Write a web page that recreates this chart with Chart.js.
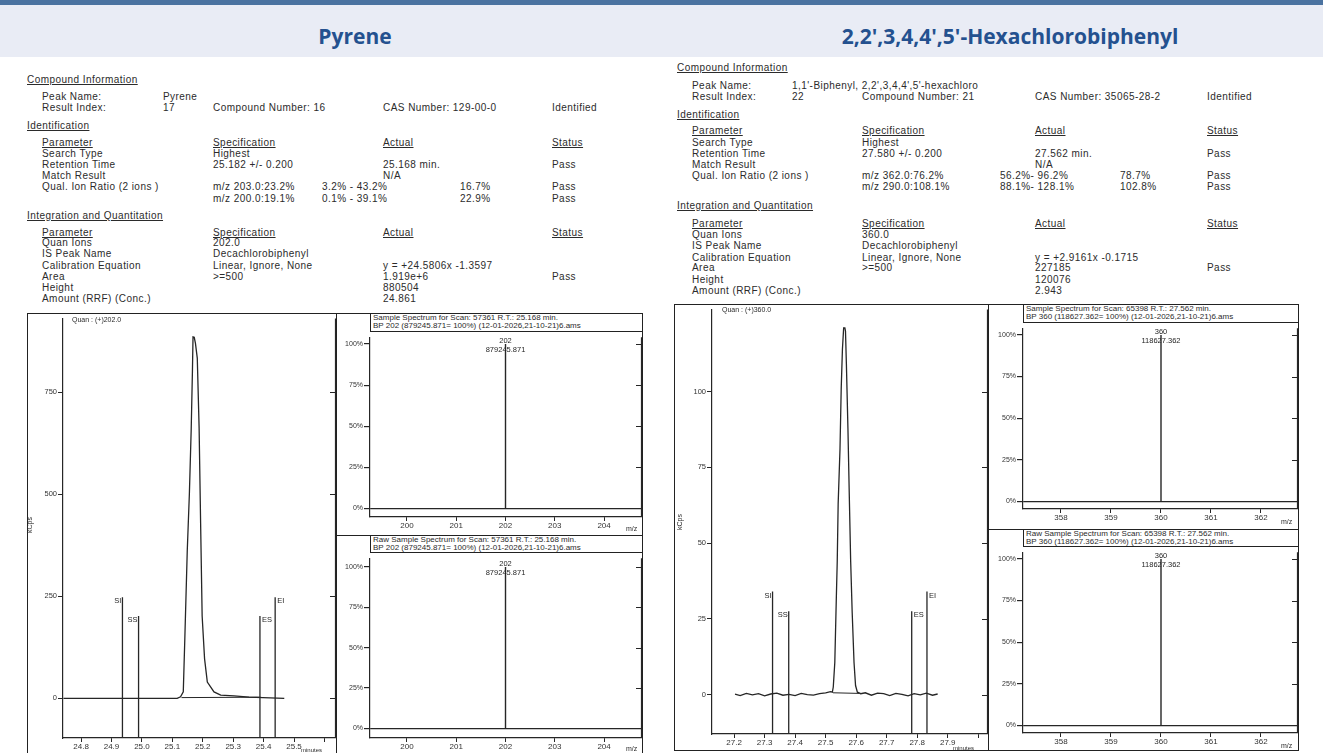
<!DOCTYPE html>
<html>
<head>
<meta charset="utf-8">
<script src="https://cdn.jsdelivr.net/npm/chart.js@4.4.1/dist/chart.umd.min.js"></script>
<style>
  body { margin: 0; width: 1323px; height: 753px; overflow: hidden; background: #fff; position: relative;
         font-family: "Liberation Sans", Arial, sans-serif; color: #2b2b2b; }
  .abs { position: absolute; white-space: nowrap; }
  .topbar { left: 0; top: 0; width: 1323px; height: 5px; background: #4a72a0; }
  .band { left: 0; top: 5px; width: 1323px; height: 52px; background: #e9ecf5; }
  .head { top: 22px; font-family: "Open Sans", sans-serif; font-weight: 700; font-size: 21px; color: #24518f; text-align: center; }
  .rep { font-size: 10px; line-height: 12px; letter-spacing: 0.45px; }
  .u { text-decoration: underline; }
  .frame { border: 1px solid #222; box-sizing: border-box; }
  .line { background: #222; }
  .sptitle { font-size: 8px; line-height: 8px; padding-left: 2px; border-left: 1px solid #222; border-bottom: 1px solid #222; box-sizing: border-box; }
  .small { font-size: 7px; line-height: 8px; }
  canvas { position: absolute; }
</style>
</head>
<body>
<div class="abs topbar"></div>
<div class="abs band"></div>
<div class="abs head" style="left:0;width:710px;">Pyrene</div>
<div class="abs head" style="left:687px;width:646px;">2,2',3,4,4',5'-Hexachlorobiphenyl</div>
<div id="report"></div>

<!-- left frames -->
<div class="abs frame" style="left:27px;top:313px;width:616px;height:460px;"></div>
<div class="abs line" style="left:336px;top:313px;width:1px;height:440px;"></div>
<div class="abs line" style="left:336px;top:535px;width:306px;height:1px;"></div>
<div class="abs sptitle" style="left:370px;top:314px;width:272px;height:18px;">Sample Spectrum for Scan: 57361 R.T.: 25.168 min.<br>BP 202 (879245.871= 100%) (12-01-2026,21-10-21)6.ams</div>
<div class="abs sptitle" style="left:370px;top:536px;width:272px;height:17px;">Raw Sample Spectrum for Scan: 57361 R.T.: 25.168 min.<br>BP 202 (879245.871= 100%) (12-01-2026,21-10-21)6.ams</div>

<!-- right frames -->
<div class="abs frame" style="left:674px;top:304px;width:625px;height:447px;"></div>
<div class="abs line" style="left:988px;top:304px;width:1px;height:446px;"></div>
<div class="abs line" style="left:988px;top:529px;width:310px;height:1px;"></div>
<div class="abs sptitle" style="left:1023px;top:305px;width:275px;height:18px;">Sample Spectrum for Scan: 65398 R.T.: 27.562 min.<br>BP 360 (118627.362= 100%) (12-01-2026,21-10-21)6.ams</div>
<div class="abs sptitle" style="left:1023px;top:530px;width:275px;height:17px;">Raw Sample Spectrum for Scan: 65398 R.T.: 27.562 min.<br>BP 360 (118627.362= 100%) (12-01-2026,21-10-21)6.ams</div>

<canvas id="chromL" width="310" height="440" style="left:27px;top:313px;"></canvas>
<canvas id="specL1" width="306" height="204" style="left:336px;top:332px;"></canvas>
<canvas id="specL2" width="306" height="200" style="left:336px;top:553px;"></canvas>
<canvas id="chromR" width="315" height="446" style="left:674px;top:304px;"></canvas>
<canvas id="specR1" width="310" height="206" style="left:988px;top:323px;"></canvas>
<canvas id="specR2" width="310" height="203" style="left:988px;top:547px;"></canvas>

<div class="abs small" style="left:72px;top:316px;">Quan : (+)202.0</div>
<div class="abs small" style="left:722px;top:306px;">Quan : (+)360.0</div>
<div class="abs small" style="left:22px;top:521px;transform:rotate(-90deg);">kCps</div>
<div class="abs small" style="left:672px;top:518px;transform:rotate(-90deg);">kCps</div>
<div class="abs small" style="left:301px;top:746px;font-size:6px;">minutes</div>
<div class="abs small" style="left:953px;top:744px;font-size:6px;">minutes</div>
<div class="abs small" style="left:626px;top:525px;">m/z</div>
<div class="abs small" style="left:626px;top:745px;">m/z</div>
<div class="abs small" style="left:1281px;top:518px;">m/z</div>
<div class="abs small" style="left:1281px;top:742px;">m/z</div>

<script>
// Pyrene quan ion 202 trace (minutes, kCps)
const pyrTime = [24.742, 25.116, 25.127, 25.136, 25.141, 25.149, 25.156, 25.162, 25.166, 25.168, 25.172, 25.176, 25.182, 25.188, 25.193, 25.198, 25.206, 25.215, 25.237, 25.259, 25.303, 25.352, 25.468];
const pyrKcps = [0, 0, 4, 16, 145, 360, 501, 659, 800, 886, 885, 870, 834, 664, 428, 202, 97, 40, 16, 8, 6, 3, 0];
const pyrBaseTime = [25.13, 25.39];
const pyrBaseKcps = [2, 3];
const pyrMarkTime = [24.936, 24.989, 25.388, 25.438];
const pyrMarkTop = [248, 202, 202, 248];
const pyrTimeTicks = [24.8, 24.9, 25.0, 25.1, 25.2, 25.3, 25.4, 25.5, 25.6];
const pyrKcpsTicks = [0, 250, 500, 750];

// Hexachlorobiphenyl quan ion 360 trace (minutes, kCps)
const pcbTime = [27.203, 27.22, 27.24, 27.26, 27.28, 27.30, 27.32, 27.34, 27.36, 27.38, 27.40, 27.42, 27.44, 27.46, 27.48, 27.50, 27.516,
  27.522, 27.525, 27.530, 27.535, 27.538, 27.541, 27.547, 27.551, 27.555, 27.559, 27.563, 27.565, 27.568, 27.573, 27.577, 27.582, 27.587, 27.593, 27.598, 27.604, 27.615,
  27.63, 27.65, 27.67, 27.69, 27.71, 27.73, 27.75, 27.77, 27.79, 27.81, 27.83, 27.85, 27.867];
const pcbKcps = [0.2, -0.3, 0.4, -0.1, 0.3, -0.4, 0.2, 0.5, -0.2, 0.1, -0.3, 0.4, 0.0, -0.2, 0.3, 0.6, 1.0,
  0.8, 2.5, 10.6, 32, 44, 63, 81, 101, 114, 121, 121, 120, 109, 88, 68, 44, 27, 10.6, 3, 0.8, 0.3,
  0.6, -0.2, 0.5, 0.3, -0.3, 0.4, 0.1, -0.4, 0.3, -0.1, 0.5, -0.2, 0.2];
const pcbBaseTime = [27.524, 27.61];
const pcbBaseKcps = [0.6, 0.4];
const pcbMarkTime = [27.326, 27.379, 27.782, 27.832];
const pcbMarkTop = [34, 27.5, 27.5, 34];
const pcbTimeTicks = [27.2, 27.3, 27.4, 27.5, 27.6, 27.7, 27.8, 27.9, 28.0];
const pcbKcpsTicks = [0, 25, 50, 75, 100];

const markNames = ['SI', 'SS', 'ES', 'EI'];

// spectra (m/z, relative abundance %)
const pyrMz = [202];
const pyrRel = [100];
const pyrPeakText = ['202', '879245.871'];
const pyrMzTicks = [200, 201, 202, 203, 204];
const pcbMz = [360];
const pcbRel = [100];
const pcbPeakText = ['360', '118627.362'];
const pcbMzTicks = [358, 359, 360, 361, 362];
const relTicks = [0, 25, 50, 75, 100];

const ink = '#262626';
const tickFont = { family: 'Liberation Sans', size: 8 };

// report text
const leftCols = { H: 27, P: 42, V: 163, S: 213, A: 383, R: 322, Q: 460, T: 552 };
const rightCols = { H: 677, P: 692, V: 792, S: 862, A: 1035, R: 1000, Q: 1120, T: 1207 };
const leftRows = [
  [80, 'H', 'Compound Information', 1],
  [97, 'P', 'Peak Name:'], [97, 'V', 'Pyrene'],
  [108, 'P', 'Result Index:'], [108, 'V', '17'], [108, 'S', 'Compound Number: 16'], [108, 'A', 'CAS Number: 129-00-0'], [108, 'T', 'Identified'],
  [126, 'H', 'Identification', 1],
  [143, 'P', 'Parameter', 1], [143, 'S', 'Specification', 1], [143, 'A', 'Actual', 1], [143, 'T', 'Status', 1],
  [154, 'P', 'Search Type'], [154, 'S', 'Highest'],
  [165, 'P', 'Retention Time'], [165, 'S', '25.182 +/- 0.200'], [165, 'A', '25.168 min.'], [165, 'T', 'Pass'],
  [176, 'P', 'Match Result'], [176, 'A', 'N/A'],
  [187, 'P', 'Qual. Ion Ratio (2 ions )'], [187, 'S', 'm/z 203.0:23.2%'], [187, 'R', '3.2% - 43.2%'], [187, 'Q', '16.7%'], [187, 'T', 'Pass'],
  [199, 'S', 'm/z 200.0:19.1%'], [199, 'R', '0.1% - 39.1%'], [199, 'Q', '22.9%'], [199, 'T', 'Pass'],
  [216, 'H', 'Integration and Quantitation', 1],
  [233, 'P', 'Parameter', 1], [233, 'S', 'Specification', 1], [233, 'A', 'Actual', 1], [233, 'T', 'Status', 1],
  [243, 'P', 'Quan Ions'], [243, 'S', '202.0'],
  [254, 'P', 'IS Peak Name'], [254, 'S', 'Decachlorobiphenyl'],
  [266, 'P', 'Calibration Equation'], [266, 'S', 'Linear, Ignore, None'], [266, 'A', 'y =  +24.5806x -1.3597'],
  [277, 'P', 'Area'], [277, 'S', '>=500'], [277, 'A', '1.919e+6'], [277, 'T', 'Pass'],
  [288, 'P', 'Height'], [288, 'A', '880504'],
  [299, 'P', 'Amount (RRF) (Conc.)'], [299, 'A', '24.861'],
];
const rightRows = [
  [68, 'H', 'Compound Information', 1],
  [86, 'P', 'Peak Name:'], [86, 'V', "1,1'-Biphenyl, 2,2',3,4,4',5'-hexachloro"],
  [97, 'P', 'Result Index:'], [97, 'V', '22'], [97, 'S', 'Compound Number: 21'], [97, 'A', 'CAS Number: 35065-28-2'], [97, 'T', 'Identified'],
  [115, 'H', 'Identification', 1],
  [131, 'P', 'Parameter', 1], [131, 'S', 'Specification', 1], [131, 'A', 'Actual', 1], [131, 'T', 'Status', 1],
  [143, 'P', 'Search Type'], [143, 'S', 'Highest'],
  [154, 'P', 'Retention Time'], [154, 'S', '27.580 +/- 0.200'], [154, 'A', '27.562 min.'], [154, 'T', 'Pass'],
  [165, 'P', 'Match Result'], [165, 'A', 'N/A'],
  [176, 'P', 'Qual. Ion Ratio (2 ions )'], [176, 'S', 'm/z 362.0:76.2%'], [176, 'R', '56.2%- 96.2%'], [176, 'Q', '78.7%'], [176, 'T', 'Pass'],
  [187, 'S', 'm/z 290.0:108.1%'], [187, 'R', '88.1%- 128.1%'], [187, 'Q', '102.8%'], [187, 'T', 'Pass'],
  [206, 'H', 'Integration and Quantitation', 1],
  [224, 'P', 'Parameter', 1], [224, 'S', 'Specification', 1], [224, 'A', 'Actual', 1], [224, 'T', 'Status', 1],
  [235, 'P', 'Quan Ions'], [235, 'S', '360.0'],
  [246, 'P', 'IS Peak Name'], [246, 'S', 'Decachlorobiphenyl'],
  [258, 'P', 'Calibration Equation'], [258, 'S', 'Linear, Ignore, None'], [258, 'A', 'y =  +2.9161x -0.1715'],
  [268, 'P', 'Area'], [268, 'S', '>=500'], [268, 'A', '227185'], [268, 'T', 'Pass'],
  [280, 'P', 'Height'], [280, 'A', '120076'],
  [291, 'P', 'Amount (RRF) (Conc.)'], [291, 'A', '2.943'],
];

function writeReport(rows, cols) {
  const host = document.getElementById('report');
  rows.forEach(r => {
    const d = document.createElement('div');
    d.className = 'abs rep' + (r[3] ? ' u' : '');
    d.style.left = cols[r[1]] + 'px';
    d.style.top = (r[0] - 6) + 'px';
    d.textContent = r[2];
    host.appendChild(d);
  });
}
writeReport(leftRows, leftCols);
writeReport(rightRows, rightCols);

// right-hand mirror axis and text annotations
const extras = {
  id: 'extras',
  afterDatasetsDraw(chart, args, opts) {
    const { ctx, chartArea: a, scales } = chart;
    const x = scales.x, y = scales.y;
    ctx.save();
    ctx.strokeStyle = ink;
    ctx.lineWidth = 1.2;
    ctx.beginPath();
    ctx.moveTo(a.right - 0.5, a.top);
    ctx.lineTo(a.right - 0.5, a.bottom);
    y.ticks.forEach(t => {
      const py = Math.round(y.getPixelForValue(t.value)) + 0.5;
      ctx.moveTo(a.right, py);
      ctx.lineTo(a.right - 6, py);
    });
    ctx.stroke();
    ctx.fillStyle = ink;
    ctx.font = '7.5px "Liberation Sans"';
    ctx.textBaseline = 'middle';
    (opts.labels || []).forEach(l => {
      ctx.textAlign = l.align;
      ctx.fillText(l.text, x.getPixelForValue(l.x) + l.dx, y.getPixelForValue(l.y) + l.dy);
    });
    ctx.restore();
  }
};

function pts(xs, ys) {
  return xs.map((v, i) => ({ x: v, y: ys[i] }));
}

function fixedTicks(values) {
  return s => { s.ticks = values.map(v => ({ value: v })); };
}

function lineSet(data, width) {
  return { data, showLine: true, pointRadius: 0, borderColor: ink, borderWidth: width, tension: 0, clip: 2 };
}

function drawChrom(id, t, k, bt, bk, mt, mtop, xr, yr, xTicks, yTicks, yAxisW, xAxisH) {
  const datasets = [lineSet(pts(t, k), 1.3), lineSet(pts(bt, bk), 1)];
  const labels = [];
  const lastTick = xTicks[xTicks.length - 1];
  mt.forEach((m, i) => {
    datasets.push(lineSet(pts([m, m], [yr[0], mtop[i]]), 1.3));
    const left = i < 2;
    labels.push({ x: m, y: mtop[i], text: markNames[i], align: left ? 'right' : 'left', dx: left ? -1 : 2, dy: 4 });
  });
  new Chart(document.getElementById(id), {
    type: 'scatter',
    data: { datasets },
    options: {
      responsive: false,
      animation: false,
      devicePixelRatio: 1,
      layout: { autoPadding: false, padding: { top: 0, right: 1, bottom: 0, left: 0 } },
      plugins: { legend: { display: false }, tooltip: { enabled: false }, extras: { labels } },
      scales: {
        x: {
          type: 'linear', min: xr[0], max: xr[1],
          border: { color: ink, width: 1.2 },
          grid: { drawOnChartArea: false, tickLength: 4, tickColor: ink },
          ticks: { padding: 0, color: '#333', font: tickFont, maxRotation: 0,
            callback: v => (Math.abs(v - lastTick) < 1e-6 ? '' : v.toFixed(1)) },
          afterBuildTicks: fixedTicks(xTicks),
          afterFit: s => { s.height = xAxisH; }
        },
        y: {
          type: 'linear', min: yr[0], max: yr[1],
          border: { color: ink, width: 1.2 },
          grid: { drawOnChartArea: false, tickLength: 5, tickColor: ink },
          ticks: { padding: 1, color: '#333', font: { family: 'Liberation Sans', size: 7.5 } },
          afterBuildTicks: fixedTicks(yTicks),
          afterFit: s => { s.width = yAxisW; }
        }
      }
    },
    plugins: [extras]
  });
}

function drawSpec(id, mz, rel, text, xr, yr, xTicks, yAxisW, xAxisH) {
  const datasets = mz.map((m, i) => lineSet(pts([m, m], [0, rel[i]]), 1.4));
  const labels = [
    { x: mz[0], y: rel[0], text: text[0], align: 'center', dx: 0, dy: -3 },
    { x: mz[0], y: rel[0], text: text[1], align: 'center', dx: 0, dy: 6 }
  ];
  new Chart(document.getElementById(id), {
    type: 'scatter',
    data: { datasets },
    options: {
      responsive: false,
      animation: false,
      devicePixelRatio: 1,
      layout: { autoPadding: false, padding: 0 },
      plugins: { legend: { display: false }, tooltip: { enabled: false }, extras: { labels } },
      scales: {
        x: {
          type: 'linear', min: xr[0], max: xr[1],
          border: { color: ink, width: 1.2 },
          grid: { drawOnChartArea: false, tickLength: 4, tickColor: ink },
          ticks: { padding: 0, color: '#333', font: tickFont, maxRotation: 0 },
          afterBuildTicks: fixedTicks(xTicks),
          afterFit: s => { s.height = xAxisH; }
        },
        y: {
          type: 'linear', min: yr[0], max: yr[1],
          border: { color: ink, width: 1.2 },
          grid: { drawOnChartArea: true, tickLength: 6, tickColor: ink, lineWidth: 1.2,
            color: c => (c.tick && c.tick.value === 0 ? ink : 'rgba(0,0,0,0)') },
          ticks: { padding: 1, color: '#333', font: { family: 'Liberation Sans', size: 7 },
            callback: v => v + '%' },
          afterBuildTicks: fixedTicks(relTicks),
          afterFit: s => { s.width = yAxisW; }
        }
      }
    },
    plugins: [extras]
  });
}

drawChrom('chromL', pyrTime, pyrKcps, pyrBaseTime, pyrBaseKcps, pyrMarkTime, pyrMarkTop,
  [24.7406, 25.638], [-97, 931], pyrTimeTicks, pyrKcpsTicks, 36, 15);
drawChrom('chromR', pcbTime, pcbKcps, pcbBaseTime, pcbBaseKcps, pcbMarkTime, pcbMarkTop,
  [27.1276, 28.032], [-13, 127.1], pcbTimeTicks, pcbKcpsTicks, 38, 16);

drawSpec('specL1', pyrMz, pyrRel, pyrPeakText, [199.25, 204.77], [-5.36, 104.2], pyrMzTicks, 34, 19);
drawSpec('specL2', pyrMz, pyrRel, pyrPeakText, [199.25, 204.77], [-6.0, 105.4], pyrMzTicks, 34, 15);
drawSpec('specR1', pcbMz, pcbRel, pcbPeakText, [357.24, 362.74], [-4.7, 104.1], pcbMzTicks, 35, 20);
drawSpec('specR2', pcbMz, pcbRel, pcbPeakText, [357.24, 362.74], [-4.7, 104.1], pcbMzTicks, 35, 17);
</script>
</body>
</html>
